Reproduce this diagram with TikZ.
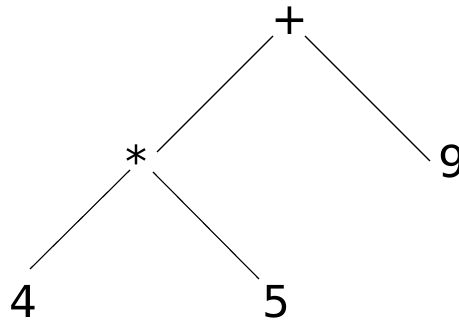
\documentclass[tikz,border=0pt]{standalone}
\usepackage{fontspec}
\setmainfont{DejaVu Sans}
\begin{document}
\begin{tikzpicture}[x=1pt,y=-1pt,
  lbl/.style={inner sep=0pt,outer sep=0pt,font=\fontsize{44}{50}\selectfont},
  edge/.style={draw=black,line width=1.1pt}]
\useasboundingbox (0,0) rectangle (459,320);
\node[lbl,anchor=north] (plus) at (290,7) {+};
\node[lbl,anchor=north] (star) at (136,145) {*};
\node[lbl,anchor=south] (nine) at (452,178) {9};
\node[lbl,anchor=south] (four) at (23,318) {4};
\node[lbl,anchor=south] (five) at (276,318) {5};
\draw[edge] ([shift={(-17,29)}]plus.north) -- ([shift={(21,7)}]star.north);
\draw[edge] ([shift={(15,29)}]plus.north) -- ([shift={(-22,-17)}]nine.south);
\draw[edge] ([shift={(-6,25)}]star.north) -- ([shift={(7,-49)}]four.south);
\draw[edge] ([shift={(17,27)}]star.north) -- ([shift={(-17,-39)}]five.south);
\end{tikzpicture}
\end{document}
